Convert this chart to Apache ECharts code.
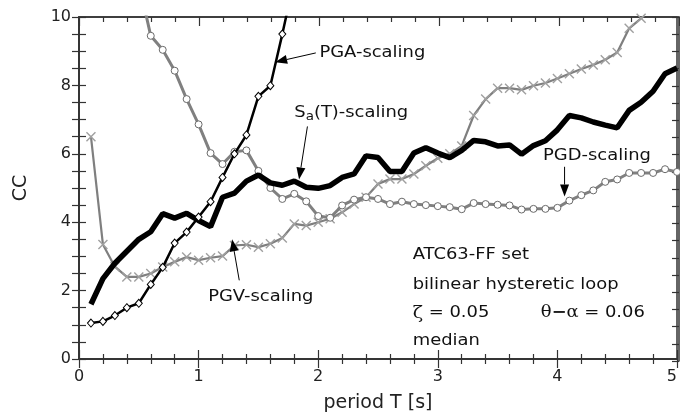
<!DOCTYPE html>
<html><head><meta charset="utf-8">
<script src="https://cdn.jsdelivr.net/npm/echarts@6/dist/echarts.min.js"></script>
<style>html,body{margin:0;padding:0;background:#fff}#c{width:680px;height:418px}</style>
</head><body><div id="c"></div>
<script>
// ---- data ----
const periods = [0.1,0.2,0.3,0.4,0.5,0.6,0.7,0.8,0.9,1.0,1.1,1.2,1.3,1.4,1.5,1.6,1.7,1.8,1.9,2.0,2.1,2.2,2.3,2.4,2.5,2.6,2.7,2.8,2.9,3.0,3.1,3.2,3.3,3.4,3.5,3.6,3.7,3.8,3.9,4.0,4.1,4.2,4.3,4.4,4.5,4.6,4.7,4.8,4.9,5.0];
const saScaling = [1.6,2.35,2.8,3.15,3.5,3.72,4.25,4.12,4.26,4.05,3.87,4.73,4.85,5.2,5.38,5.15,5.08,5.2,5.02,4.99,5.07,5.31,5.41,5.94,5.89,5.48,5.48,6.02,6.18,6.02,5.89,6.1,6.39,6.35,6.23,6.26,5.99,6.24,6.38,6.7,7.12,7.05,6.93,6.84,6.76,7.27,7.51,7.83,8.34,8.51];
const pgaPeriods = [0.1,0.2,0.3,0.4,0.5,0.6,0.7,0.8,0.9,1.0,1.1,1.2,1.3,1.4,1.5,1.6,1.7,1.8];
const pgaScaling = [1.05,1.1,1.27,1.5,1.63,2.18,2.68,3.39,3.71,4.15,4.6,5.31,6.0,6.55,7.68,7.99,9.5,11.1];
const pgvPeriods = [0.1,0.2,0.3,0.4,0.5,0.6,0.7,0.8,0.9,1.0,1.1,1.2,1.3,1.4,1.5,1.6,1.7,1.8,1.9,2.0,2.1,2.2,2.3,2.4,2.5,2.6,2.7,2.8,2.9,3.0,3.1,3.2,3.3,3.4,3.5,3.6,3.7,3.8,3.9,4.0,4.1,4.2,4.3,4.4,4.5,4.6,4.7,4.8];
const pgvScaling = [6.5,3.35,2.7,2.4,2.4,2.5,2.69,2.84,2.98,2.89,2.96,3.01,3.32,3.34,3.27,3.37,3.54,3.95,3.9,4.0,4.1,4.29,4.53,4.73,5.12,5.26,5.26,5.41,5.65,5.87,6.0,6.23,7.12,7.6,7.92,7.92,7.87,7.99,8.07,8.2,8.34,8.48,8.6,8.75,8.96,9.67,9.96,10.3];
const pgdPeriods = [0.5,0.6,0.7,0.8,0.9,1.0,1.1,1.2,1.3,1.4,1.5,1.6,1.7,1.8,1.9,2.0,2.1,2.2,2.3,2.4,2.5,2.6,2.7,2.8,2.9,3.0,3.1,3.2,3.3,3.4,3.5,3.6,3.7,3.8,3.9,4.0,4.1,4.2,4.3,4.4,4.5,4.6,4.7,4.8,4.9,5.0];
const pgdScaling = [11.0,9.45,9.04,8.43,7.6,6.86,6.02,5.7,6.06,6.1,5.5,5.0,4.68,4.83,4.61,4.18,4.13,4.49,4.66,4.73,4.68,4.53,4.6,4.53,4.5,4.47,4.44,4.38,4.56,4.53,4.51,4.49,4.37,4.39,4.39,4.42,4.63,4.79,4.93,5.18,5.25,5.44,5.44,5.44,5.55,5.47];
const xTickLabels = ['0','1','2','3','4','5'];
const yTickLabels = ['0','2','4','6','8','10'];
// annotation anchors in data coordinates: [text x, text y, arrow start x, y, arrow tip x, y]
const annPGA = [2.01, 8.95, 1.98, 8.95, 1.64, 8.68];
const annSa  = [1.8, 7.2, 1.91, 6.8, 1.84, 5.25];
const annPGD = [3.88, 5.93, 4.06, 5.62, 4.06, 4.75];
const annPGV = [1.08, 1.83, 1.34, 2.3, 1.28, 3.5];
const infoLines = ['ATC63-FF set','bilinear hysteretic loop','median'];

const FONT = 'DejaVu Sans';
const AX = '#333';
const zip = (xs, ys) => xs.map((x, i) => [x, ys[i]]);
const chart = echarts.init(document.getElementById('c'), null, {renderer: 'canvas'});

function xAx(pos, showLabel) {
  return {
    type: 'value', min: 0, max: 5, interval: 1, position: pos,
    axisLine: {lineStyle: {color: AX, width: 1.5}},
    splitLine: {show: false},
    axisTick: {inside: true, length: 9, lineStyle: {color: AX, width: 1.2}},
    minorTick: {show: true, splitNumber: 5, length: 5, lineStyle: {color: AX, width: 1.2}},
    axisLabel: {show: showLabel, fontFamily: FONT, fontSize: 16, color: '#222', margin: 10,
      alignMaxLabel: 'right', formatter: v => xTickLabels[Math.round(v)]},
    name: showLabel ? 'period T [s]' : '', nameLocation: 'middle', nameGap: 35,
    nameTextStyle: {fontFamily: FONT, fontSize: 19, color: '#222'}
  };
}
function yAx(pos, showLabel) {
  return {
    type: 'value', min: 0, max: 10, interval: 2, position: pos,
    axisLine: {lineStyle: {color: AX, width: 1.5}},
    splitLine: {show: false},
    axisTick: {inside: true, length: 7, lineStyle: {color: AX, width: 1.2}},
    minorTick: {show: true, splitNumber: 4, length: 7, lineStyle: {color: AX, width: 1.2}},
    axisLabel: {show: showLabel, fontFamily: FONT, fontSize: 16, color: '#222', margin: 8,
      formatter: v => yTickLabels[Math.round(v / 2)]},
    name: showLabel ? 'CC' : '', nameLocation: 'middle', nameGap: 48,
    nameTextStyle: {fontFamily: FONT, fontSize: 19, color: '#222'}
  };
}
// frame axes for the top and right edges (second grid, same box, inverted so the axis lines sit on those edges)
const xTop = Object.assign(xAx('top', false), {gridIndex: 1, inverse: true});
const yRight = Object.assign(yAx('right', false), {gridIndex: 1, inverse: true});

chart.setOption({
  animation: false,
  backgroundColor: '#fff',
  grid: [
    {left: 79, top: 17, width: 600, height: 344, show: true, borderColor: AX, borderWidth: 1.5, backgroundColor: 'transparent'},
    {left: 79, top: 17, width: 600, height: 344}
  ],
  xAxis: [xAx('bottom', true), xAx('top', false), xTop],
  yAxis: [yAx('left', true), yAx('right', false), yRight],
  series: [
    {name: 'PGV', type: 'line', data: zip(pgvPeriods, pgvScaling), z: 2,
      lineStyle: {color: '#7f7f7f', width: 2.2},
      symbol: 'path://M0,1L1,0L10,9L9,10Z M9,0L10,1L1,10L0,9Z', symbolSize: 10,
      itemStyle: {color: '#a0a0a0'}, showAllSymbol: true},
    {name: 'PGD', type: 'line', data: zip(pgdPeriods, pgdScaling), z: 3,
      lineStyle: {color: '#808080', width: 3},
      symbol: 'circle', symbolSize: 7, showAllSymbol: true,
      itemStyle: {color: '#fff', borderColor: '#6a6a6a', borderWidth: 1}},
    {name: 'Sa', type: 'line', data: zip(periods, saScaling), z: 4,
      lineStyle: {color: '#000', width: 5.5}, showSymbol: false, symbol: 'none'},
    {name: 'PGA', type: 'line', data: zip(pgaPeriods, pgaScaling), z: 5,
      lineStyle: {color: '#000', width: 2.5},
      symbol: 'diamond', symbolSize: [7, 8], showAllSymbol: true,
      itemStyle: {color: '#fff', borderColor: '#000', borderWidth: 1}}
  ]
});

function px(x, y) { return chart.convertToPixel({xAxisIndex: 0, yAxisIndex: 0}, [x, y]); }
function arrow(a) {
  const p0 = px(a[2], a[3]), p1 = px(a[4], a[5]);
  const dx = p1[0] - p0[0], dy = p1[1] - p0[1];
  const L = Math.hypot(dx, dy), ux = dx / L, uy = dy / L;
  const hl = 12, hw = 4.5;
  const bx = p1[0] - ux * hl, by = p1[1] - uy * hl;
  return [
    {type: 'line', shape: {x1: p0[0], y1: p0[1], x2: bx, y2: by}, style: {stroke: '#000', lineWidth: 1}, z: 100},
    {type: 'polygon', shape: {points: [[p1[0], p1[1]], [bx - uy * hw, by + ux * hw], [bx + uy * hw, by - ux * hw]]},
      style: {fill: '#000'}, z: 100}
  ];
}
const SX = 1.12;
function label(a, text, rich) {
  const p = px(a[0], a[1]);
  return {type: 'text', x: p[0], y: p[1], scaleX: SX, z: 100,
    style: {text: text, fontFamily: FONT, fontSize: 16, fill: '#111', verticalAlign: 'middle', align: 'left', rich: rich}};
}
const infoX = 2.79, infoYs = [3.05, 2.18, 1.34, 0.52];
const g = [];
g.push(label(annPGA, 'PGA-scaling'));
g.push(label(annSa, '{n|S}{s|a}{n|(T)-scaling}', {
  n: {fontFamily: FONT, fontSize: 16, lineHeight: 20, fill: '#111'},
  s: {fontFamily: FONT, fontSize: 12, lineHeight: 12, verticalAlign: 'bottom', fill: '#111'}}));
g.push(label(annPGD, 'PGD-scaling'));
g.push(label(annPGV, 'PGV-scaling'));
g.push(...arrow(annPGA), ...arrow(annSa), ...arrow(annPGD), ...arrow(annPGV));
g.push(label([infoX, infoYs[0]], infoLines[0]));
g.push(label([infoX, infoYs[1]], infoLines[1]));
g.push(label([infoX, infoYs[2]], '{g|ζ}{n| = 0.05}', {
  g: {fontFamily: 'DejaVu Serif', fontSize: 17, fill: '#111'},
  n: {fontFamily: FONT, fontSize: 16, fill: '#111'}}));
g.push(label([3.86, infoYs[2]], '{g|θ}{d|−}{g|α}{n| = 0.06}', {
  g: {fontFamily: 'DejaVu Serif', fontSize: 16, fill: '#111'},
  d: {fontFamily: FONT, fontSize: 16, fontWeight: 'bold', fill: '#111'},
  n: {fontFamily: FONT, fontSize: 16, fill: '#111'}}));
g.push(label([infoX, infoYs[3]], infoLines[2]));
chart.setOption({graphic: g});
</script></body></html>
